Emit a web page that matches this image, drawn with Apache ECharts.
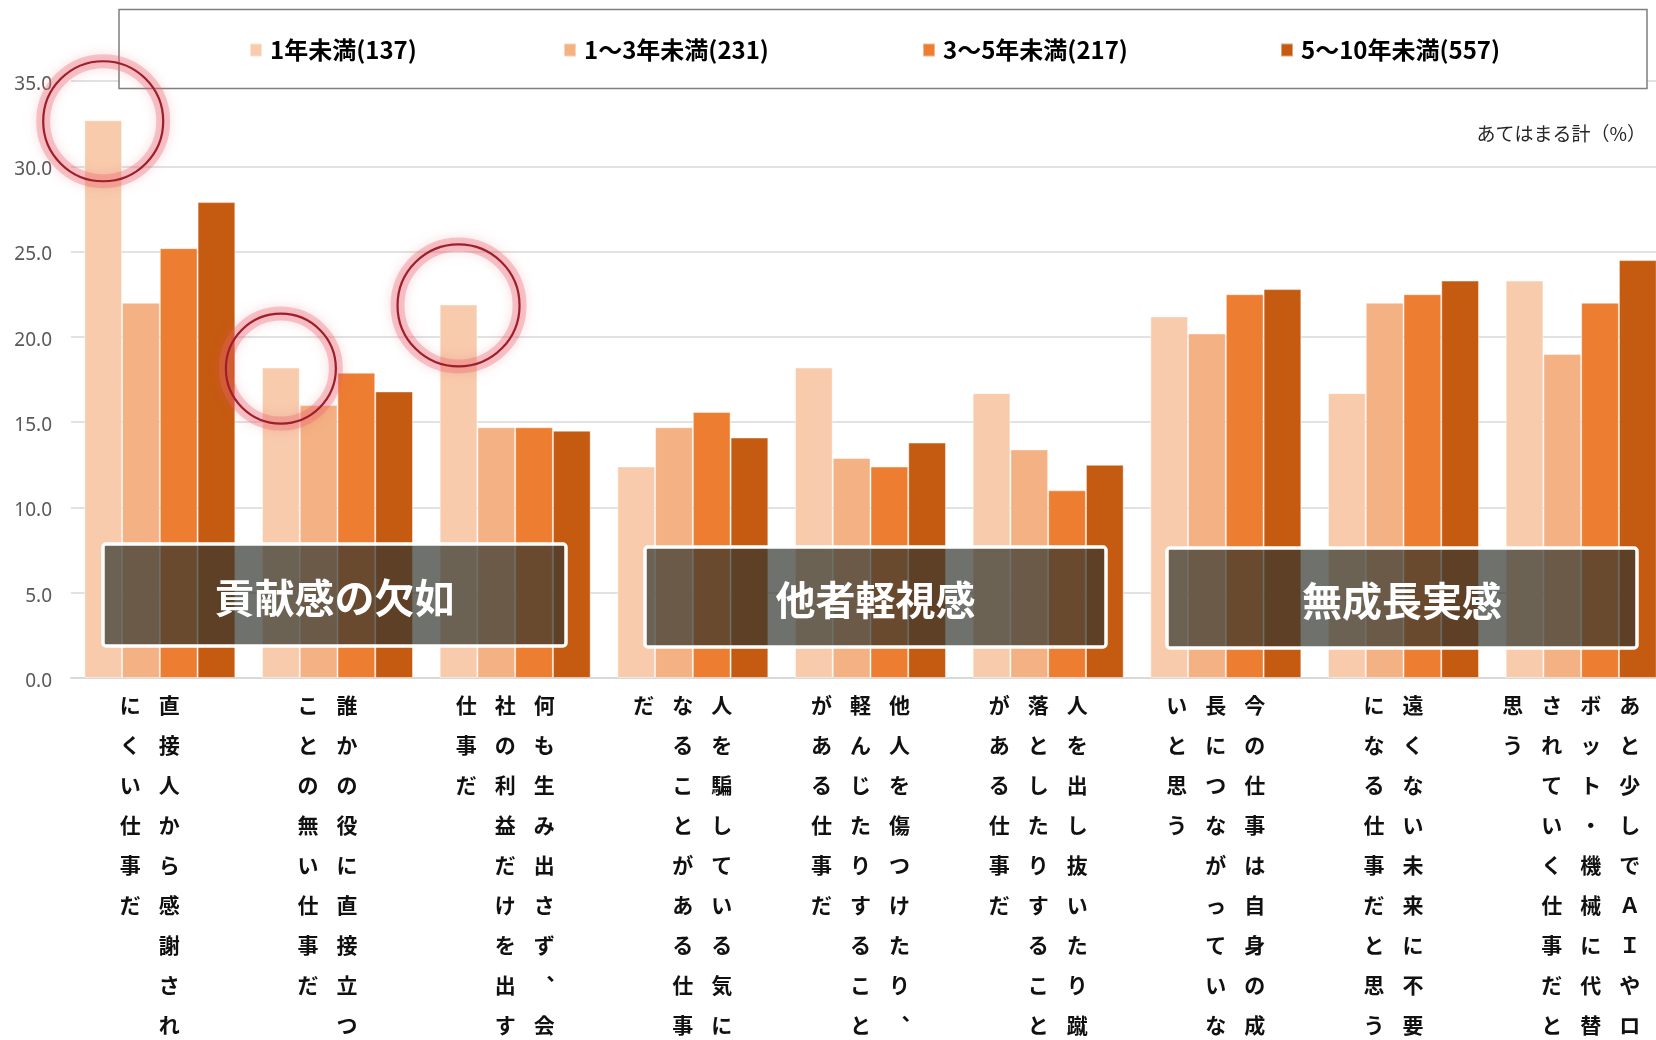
<!DOCTYPE html>
<html>
<head>
<meta charset="utf-8">
<script src="https://cdn.jsdelivr.net/npm/echarts@6/dist/echarts.min.js"></script>
<style>
  html, body { margin: 0; padding: 0; background: #fff; }
  #chart { width: 1656px; height: 1040px; }
</style>
</head>
<body>
<div id="chart"></div>
<script>
// Job characteristics by years of service ("あてはまる計", %)
const categories = [
  '直接人から感謝されにくい仕事だ',
  '誰かの役に直接立つことの無い仕事だ',
  '何も生み出さず、会社の利益だけを出す仕事だ',
  '人を騙している気になることがある仕事だ',
  '他人を傷つけたり、軽んじたりすることがある仕事だ',
  '人を出し抜いたり蹴落としたりすることがある仕事だ',
  '今の仕事は自身の成長につながっていないと思う',
  '遠くない未来に不要になる仕事だと思う',
  'あと少しでＡＩやロボット・機械に代替されていく仕事だと思う'
];
const seriesNames = ['1年未満(137)', '1～3年未満(231)', '3～5年未満(217)', '5～10年未満(557)'];
const under1 = [32.7, 18.2, 21.9, 12.4, 18.2, 16.7, 21.2, 16.7, 23.3];
const y1to3 = [22.0, 16.0, 14.7, 14.7, 12.9, 13.4, 20.2, 22.0, 19.0];
const y3to5 = [25.2, 17.9, 14.7, 15.6, 12.4, 11.0, 22.5, 22.5, 22.0];
const y5to10 = [27.9, 16.8, 14.5, 14.1, 13.8, 12.5, 22.8, 23.3, 24.5];
const yTicks = [0, 5, 10, 15, 20, 25, 30, 35];
const groupTitles = ['貢献感の欠如', '他者軽視感', '無成長実感'];
// categories whose 1年未満 bar is circled
const circledCategories = [0, 1, 2];

const colors = ['#F8CBAD', '#F4B183', '#ED7D31', '#C55A11'];
const CJK = '"Noto Sans CJK JP", "Noto Sans", sans-serif';
const CHARS_PER_COLUMN = 9;

// Vertical (tategaki) label: columns of 9 characters, read right to left
function verticalLabel(text) {
  const chars = Array.from(text.replace(/、/g, '︑'));
  const cols = [];
  for (let i = 0; i < chars.length; i += CHARS_PER_COLUMN) {
    cols.push(chars.slice(i, i + CHARS_PER_COLUMN));
  }
  const rows = [];
  for (let r = 0; r < CHARS_PER_COLUMN; r++) {
    let line = '';
    for (let c = cols.length - 1; c >= 0; c--) {
      line += '{c|' + (cols[c][r] || '　') + '}';
    }
    line += '{p| }';
    rows.push(line);
  }
  return rows.join('\n');
}

const chart = echarts.init(document.getElementById('chart'), null, { renderer: 'canvas' });

const legendLefts = [249, 563, 922, 1280];
const legends = seriesNames.map((name, i) => ({
  data: [name],
  left: legendLefts[i],
  top: 38,
  padding: 0,
  z: 10,
  icon: 'rect',
  itemWidth: 12,
  itemHeight: 13,
  selectedMode: false,
  textStyle: { fontFamily: CJK, fontSize: 24, fontWeight: 'bold', color: '#000', padding: [0, 0, 0, 3] }
}));

const seriesData = [under1, y1to3, y3to5, y5to10];

const boxes = [
  { x: 103, y: 544, w: 463, h: 102 },
  { x: 645, y: 547, w: 461, h: 100 },
  { x: 1167, y: 548, w: 470, h: 100 }
];

const graphics = [
  {
    id: 'legendFrame', type: 'rect', z: 3,
    shape: { x: 119, y: 9.5, width: 1528, height: 79 },
    style: { fill: '#fff', stroke: '#7f7f7f', lineWidth: 1.5 }
  }
];
boxes.forEach((b, i) => {
  graphics.push({
    id: 'box' + i, type: 'rect', z: 20,
    shape: { x: b.x, y: b.y, width: b.w, height: b.h, r: 3 },
    style: { fill: 'rgba(48,52,46,0.7)', stroke: '#fff', lineWidth: 3.5 }
  });
  graphics.push({
    id: 'boxText' + i, type: 'text', z: 21,
    x: b.x + b.w / 2, y: b.y + b.h / 2 + 3,
    style: {
      text: groupTitles[i], fill: '#fff', font: 'bold 40px ' + CJK,
      textAlign: 'center', textVerticalAlign: 'middle'
    }
  });
});

chart.setOption({
  animation: false,
  backgroundColor: '#fff',
  color: colors,
  title: {
    text: 'あてはまる計（%）',
    right: 10, top: 124, padding: 0,
    textStyle: { fontFamily: CJK, fontSize: 19, fontWeight: 'normal', color: '#262626' }
  },
  legend: legends,
  grid: { left: 71, top: 81, width: 1599, height: 597, containLabel: false, outerBoundsMode: 'none' },
  xAxis: {
    type: 'category',
    data: categories,
    axisTick: { show: false },
    axisLine: { lineStyle: { color: '#d9d9d9', width: 2 } },
    axisLabel: {
      interval: 0,
      margin: 7,
      formatter: (v) => verticalLabel(v),
      rich: {
        c: { width: 39, align: 'center', fontSize: 21, fontWeight: 'bold', lineHeight: 40, color: '#111', fontFamily: CJK },
        p: { width: 20, align: 'center', lineHeight: 40, fontSize: 21 }
      }
    }
  },
  yAxis: {
    type: 'value',
    min: yTicks[0],
    max: yTicks[yTicks.length - 1],
    interval: yTicks[1] - yTicks[0],
    axisLine: { show: false },
    axisTick: { show: false },
    axisLabel: {
      margin: 19,
      formatter: (v) => '{v|' + v.toFixed(1) + '}',
      rich: {
        v: {
          padding: [7, 0, 0, 0],
          color: '#595959',
          fontSize: 19,
          fontFamily: '"Noto Sans", sans-serif'
        }
      }
    },
    splitLine: { lineStyle: { color: '#d9d9d9', width: 1.5 } }
  },
  series: seriesNames.map((name, i) => ({
    name: name,
    type: 'bar',
    data: seriesData[i],
    barGap: '0%',
    barCategoryGap: '15%',
    itemStyle: { color: colors[i], borderColor: 'rgba(255,255,255,0.45)', borderWidth: 1 }
  })),
  graphic: graphics
});

// Highlight rings around the top of selected 1年未満 bars
const radii = [60, 55, 61];
const barData = chart.getModel().getSeriesByIndex(0).getData();
const rings = [];
circledCategories.forEach((idx, k) => {
  const lay = barData.getItemLayout(idx);
  const cx = lay.x + lay.width / 2;
  const cy = Math.min(lay.y, lay.y + lay.height) + 1;
  const r = radii[k];
  rings.push({
    id: 'glow' + k, type: 'circle', z: 30,
    shape: { cx: cx, cy: cy, r: r },
    style: {
      fill: 'none', stroke: 'rgba(232,96,108,0.32)', lineWidth: 14,
      shadowBlur: 12, shadowColor: 'rgba(232,96,108,0.65)'
    }
  });
  rings.push({
    id: 'ring' + k, type: 'circle', z: 31,
    shape: { cx: cx, cy: cy, r: r },
    style: { fill: 'none', stroke: '#9b1f2c', lineWidth: 2.2 }
  });
});
chart.setOption({ graphic: rings });
</script>
</body>
</html>
